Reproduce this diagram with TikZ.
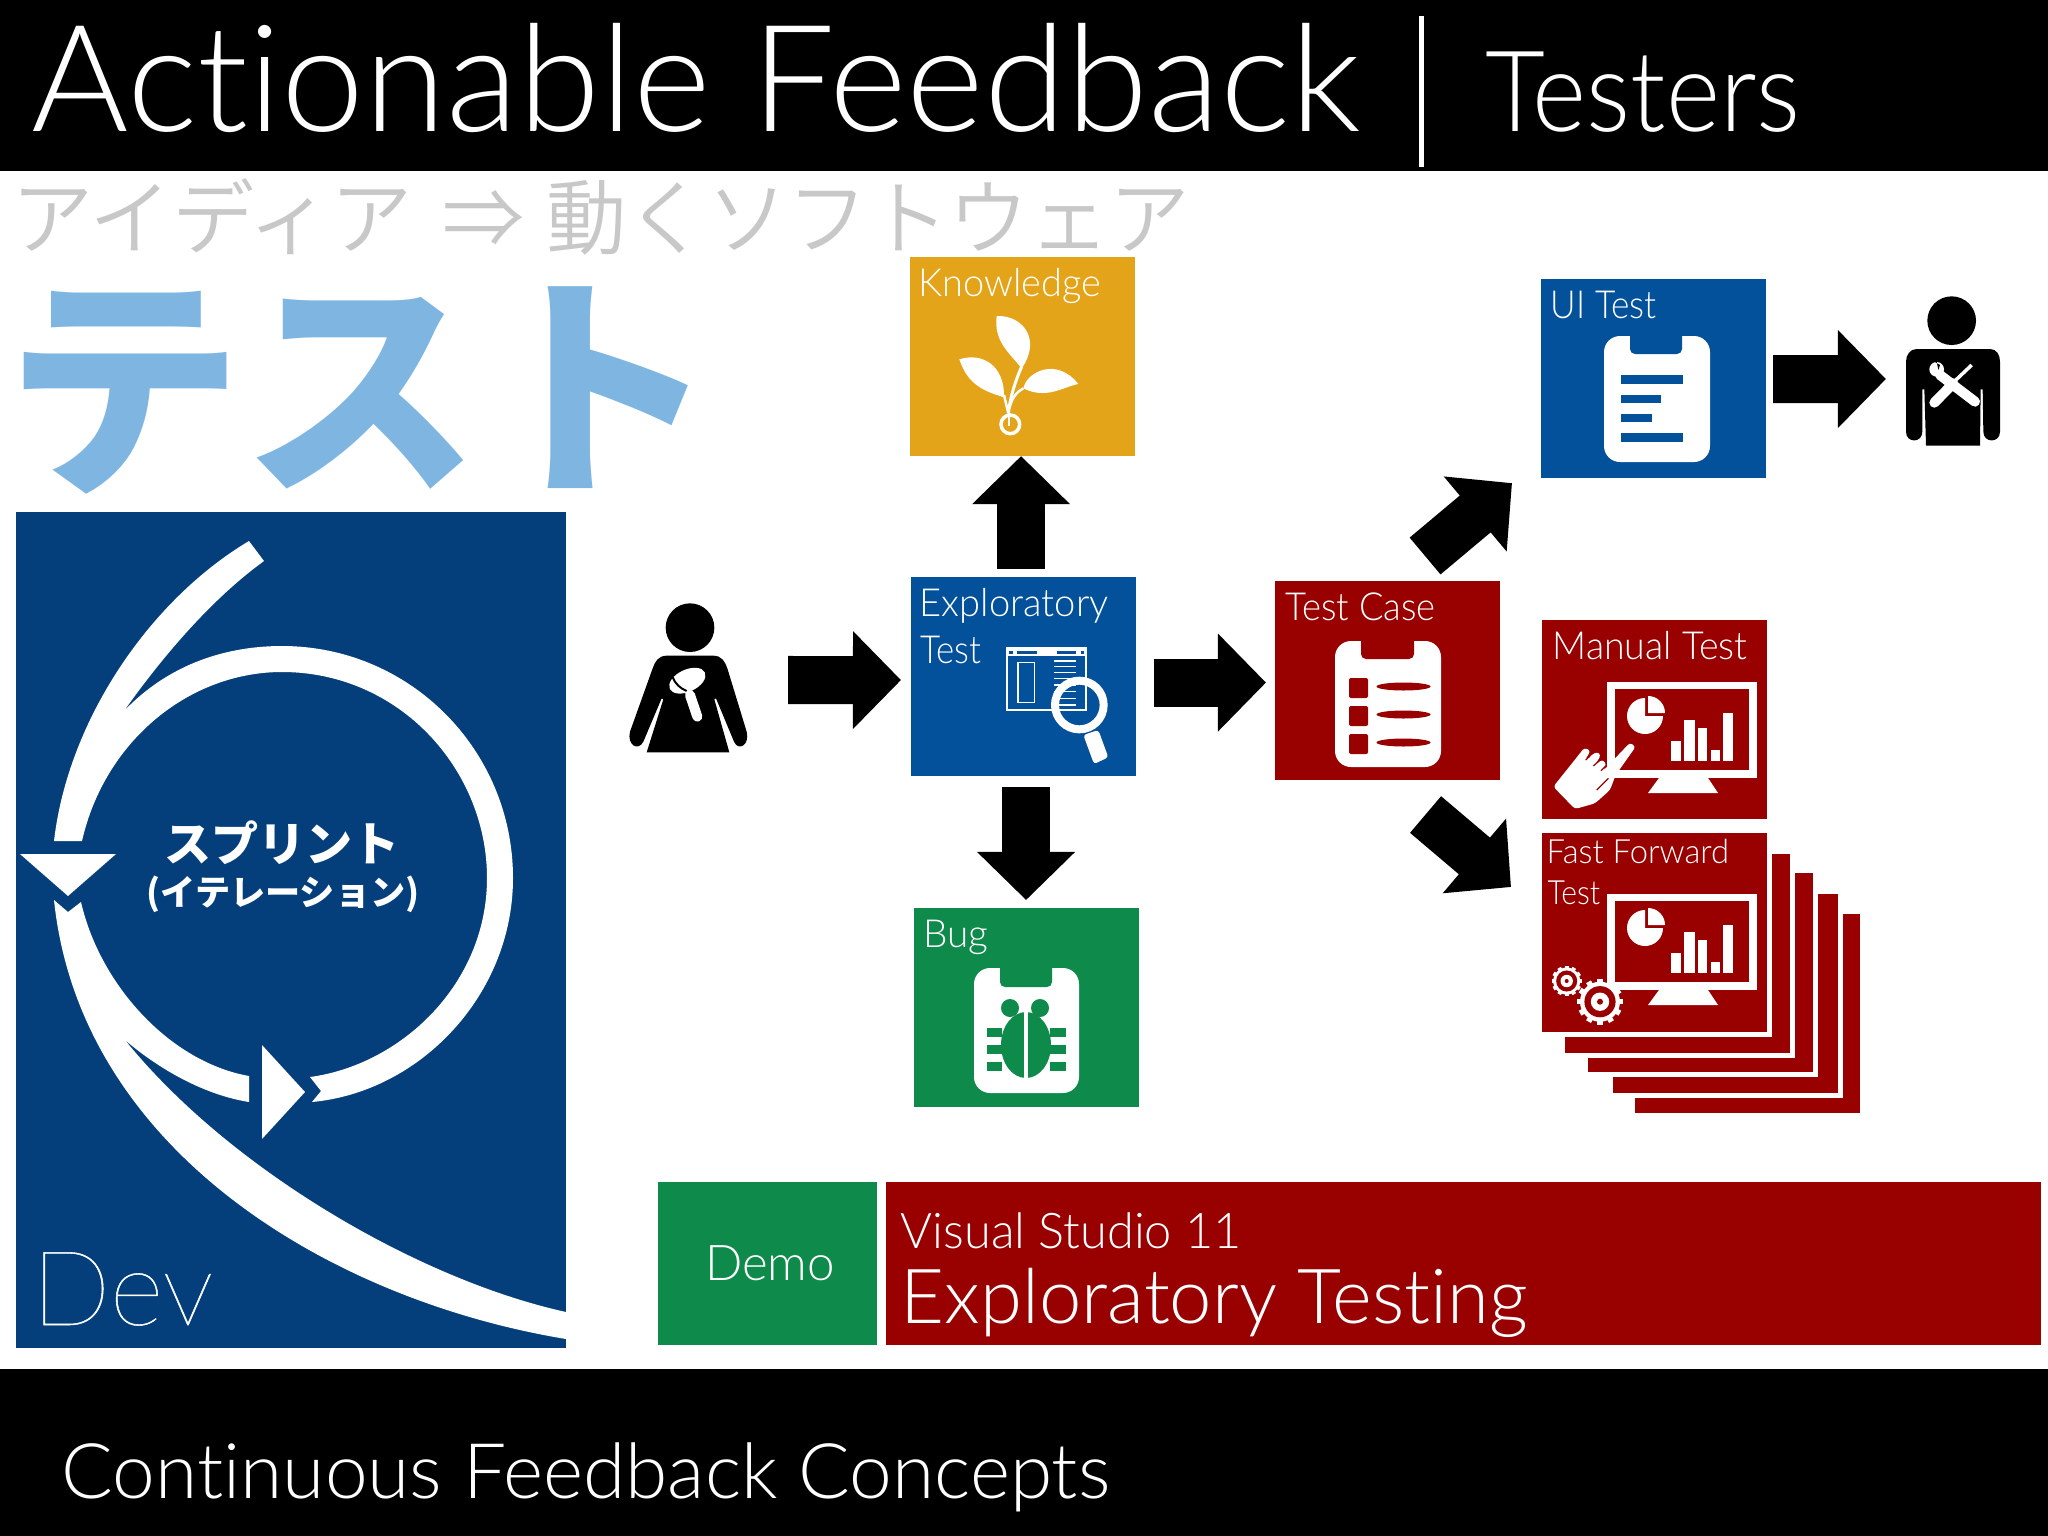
\documentclass[tikz,border=0pt]{standalone}
\usepackage{fontspec}
\usepackage{graphicx}
\setmainfont{Lato Light}[Ligatures=NoCommon]
\newfontfamily\devfont{Lato Thin}[Ligatures=NoCommon, FakeBold=0.5]
\newfontfamily\jpdemi{Noto Sans CJK JP DemiLight}
\newfontfamily\jpblack{Noto Sans CJK JP Black}
\usetikzlibrary{arrows.meta}
\definecolor{tileorange}{HTML}{E3A41A}
\definecolor{tileblue}{HTML}{02519A}
\definecolor{tilered}{HTML}{990000}
\definecolor{tilegreen}{HTML}{0E8A4B}
\definecolor{devblue}{HTML}{043F7B}
\definecolor{testblue}{HTML}{7FB6E1}
\definecolor{ideagray}{HTML}{C8C8C8}
\tikzset{
    tile/.style={rectangle, inner sep=0pt, outer sep=0pt, anchor=north west,
        minimum width=2.25cm, minimum height=1.99cm},
    stacktile/.style={tile, fill=tilered, draw=white, line width=0.05cm,
        minimum width=2.30cm, minimum height=2.04cm},
    tiletext/.style={anchor=base west, inner sep=0pt, text=white, font=\fontsize{11}{13}\selectfont},
    figbox/.style={rectangle, inner sep=0pt, outer sep=0pt},
    blockarrow/.style={line width=0.48cm, -{Triangle[length=0.48cm,width=0.95cm]}},
}
\newcommand{\squeeze}[2]{\scalebox{#1}[1]{#2}}
% monitor with pie and bars, #1 is its offset from the Manual Test one
\newcommand{\monitoricon}[1]{
    \begin{scope}[shift={(0,#1)}]
        \fill[white] (1607,682) rectangle (1757,778);
        \fill[tilered] (1615,689) rectangle (1749,770);
        \fill[white] (1659,778) -- (1708,778) -- (1718,793) -- (1648,793) -- cycle;
        \fill[white] (1645,716) -- ++(0,-18) arc[start angle=-90, end angle=-360, radius=18, y radius=18] -- cycle;
        \fill[white] (1648,713) -- ++(0,-17) arc[start angle=-90, end angle=0, radius=17] -- cycle;
        \fill[white] (1671,741) rectangle (1681,761);
        \fill[white] (1684,720) rectangle (1695,761);
        \fill[white] (1698,728) rectangle (1707,761);
        \fill[white] (1711,750) rectangle (1720,761);
        \fill[white] (1723,713) rectangle (1733,761);
    \end{scope}
}
% gear: centre, body radius, tooth width
\newcommand{\gearicon}[4]{
    \fill[white] (#1,#2) circle[radius=#3];
    \foreach \a in {0,30,...,330}
        \draw[white, line width=#4] (#1,#2) ++(\a:#3-1) -- ++(\a:#3*0.2);
    \fill[tilered] (#1,#2) circle[radius=#3*0.78];
    \fill[white] (#1,#2) circle[radius=#3*0.46];
    \fill[tilered] (#1,#2) circle[radius=#3*0.15];
}
\begin{document}
\begin{tikzpicture}[x=0.01cm, y=-0.01cm]
    \useasboundingbox (0,0) rectangle (2048,1536);
    \fill[white] (0,0) rectangle (2048,1536);
    \fill[black] (0,0) rectangle (2048,171);
    \fill[black] (0,1369) rectangle (2048,1536);

    \node[anchor=base west, inner sep=0pt, text=white, font=\fontsize{42.3}{50}\selectfont] (title) at (31,131) {Actionable Feedback};
    \node[figbox, fill=white, minimum width=0.05cm, minimum height=1.51cm, anchor=north] (titlebar) at (1421,16) {};
    \node[anchor=base west, inner sep=0pt, text=white, font=\fontsize{32}{38}\selectfont] (testers) at (1485,131) {\squeeze{0.92}{Testers}};
    \node[anchor=base west, inner sep=0pt, text=ideagray, font=\jpdemi\fontsize{23.4}{27}\selectfont] (idea) at (11,248) {アイディア\hspace{3pt} ⇒\hspace{1pt} \squeeze{0.978}{動くソフトウェア}};
    \node[anchor=base west, inner sep=0pt, text=testblue, font=\jpblack\fontsize{67.4}{75}\selectfont] (testword) at (5,476) {テスト};
    \node[anchor=base west, inner sep=0pt, text=white, font=\fontsize{21.8}{26}\selectfont] (footer) at (61,1498) {Continuous Feedback Concepts};

    % sprint box
    \node[tile, fill=devblue, minimum width=5.50cm, minimum height=8.35cm] (dev) at (16,512) {};
    \fill[white] (249,541) .. controls (150,600) and (68,720) .. (54,841) -- (82,841)
        .. controls (105,740) and (190,672) .. (282,672)
        .. controls (400,672) and (487,770) .. (487,878)
        .. controls (487,985) and (400,1065) .. (310,1077)
        -- (321,1091) -- (312,1102)
        .. controls (420,1092) and (513,995) .. (513,878)
        .. controls (513,750) and (410,646) .. (282,646)
        .. controls (220,646) and (165,668) .. (124,711)
        .. controls (160,660) and (210,600) .. (264,561) -- cycle;
    \fill[white] (54,900) -- (68,912) -- (81,902)
        .. controls (100,985) and (170,1062) .. (249,1076) -- (249,1102)
        .. controls (205,1095) and (160,1070) .. (125,1040)
        .. controls (230,1170) and (420,1280) .. (566,1312) -- (566,1339)
        .. controls (330,1300) and (80,1150) .. (54,900) -- cycle;
    \fill[white] (20,854) -- (116,854) -- (68,896) -- cycle;
    \fill[white] (262,1045) -- (305,1092) -- (262,1139) -- cycle;
    \node[inner sep=0pt, text=white, font=\jpblack\fontsize{13.4}{15}\selectfont] (sprint) at (282,843) {スプリント};
    \node[inner sep=0pt, text=white, font=\jpblack\fontsize{10}{12}\selectfont] (iteration) at (283,894) {(イテレーション)};
    \node[anchor=base west, inner sep=0pt, text=white, font=\devfont\fontsize{29.5}{35}\selectfont] (devtext) at (31,1325) {Dev};

    % tiles
    \node[tile, fill=tileorange] (knowledge) at (910,257) {};
    \node[tile, fill=tileblue] (explore) at (911,577) {};
    \node[tile, fill=tilegreen] (bug) at (914,908) {};
    \node[tile, fill=tilered] (testcase) at (1275,581) {};
    \node[tile, fill=tileblue] (uitest) at (1541,279) {};
    \node[tile, fill=tilered] (manual) at (1542,620) {};
    \node[stacktile] (stackd) at (1632,911) {};
    \node[stacktile] (stackc) at (1610,891) {};
    \node[stacktile] (stackb) at (1585,870) {};
    \node[stacktile] (stacka) at (1562,851) {};
    \node[stacktile] (fastforward) at (1539,830) {};
    \node[tile, fill=tilegreen, minimum width=2.19cm, minimum height=1.63cm] (demo) at (658,1182) {};
    \node[tile, fill=tilered, minimum width=11.54cm, minimum height=1.63cm] (vstudio) at (886,1182) {};

    \node[tiletext] (knowledgetext) at (918,296) {\squeeze{0.98}{Knowledge}};
    \node[tiletext] (exploretexta) at (919,616) {\squeeze{0.985}{Exploratory}};
    \node[tiletext] (exploretextb) at (920,663) {\squeeze{0.9}{Test}};
    \node[tiletext] (bugtext) at (923,947) {Bug};
    \node[tiletext] (casetext) at (1285,620) {\squeeze{0.94}{Test Case}};
    \node[tiletext] (uitext) at (1550,318) {\squeeze{0.91}{UI Test}};
    \node[tiletext] (manualtext) at (1552,659) {\squeeze{0.97}{Manual Test}};
    \node[tiletext, font=\fontsize{9.5}{11}\selectfont] (fasttexta) at (1546,863) {\squeeze{0.98}{Fast Forward}};
    \node[tiletext, font=\fontsize{9.5}{11}\selectfont] (fasttextb) at (1547,904) {\squeeze{0.9}{Test}};
    \node[anchor=center, inner sep=0pt, text=white, font=\fontsize{14}{17}\selectfont] (demotext) at (770,1263) {Demo};
    \node[anchor=base west, inner sep=0pt, text=white, font=\fontsize{14}{17}\selectfont] (vstext) at (900,1248) {\squeeze{0.99}{Visual Studio 11}};
    \node[anchor=base west, inner sep=0pt, text=white, font=\fontsize{21.6}{25}\selectfont] (exptext) at (900,1323) {Exploratory Testing};

    % figures
    \node[figbox, minimum width=1.18cm, minimum height=1.48cm] (tester) at (688,678) {};
    \node[figbox, minimum width=0.94cm, minimum height=1.49cm] (maintainer) at (1953,371.5) {};

    % connectors
    \draw[blockarrow] ([shift={(41,2)}]tester.east) -- ([shift={(-10,3.5)}]explore.west);
    \draw[blockarrow] ([shift={(-2.5,-8)}]explore.north) -- ([shift={(-1.5,0)}]knowledge.south);
    \draw[blockarrow] ([shift={(2.5,11)}]explore.south) -- ([shift={(-0.5,-8)}]bug.north);
    \draw[blockarrow] ([shift={(17.6,6)}]explore.east) -- ([shift={(-9,2)}]testcase.west);
    \draw[blockarrow] ([shift={(37.5,-25)}]testcase.north) -- ([shift={(-29,5)}]uitest.south west);
    \draw[blockarrow] ([shift={(38,34.4)}]testcase.south) -- ([shift={(-28,57)}]fastforward.north west);
    \draw[blockarrow] ([shift={(7,0.5)}]uitest.east) -- ([shift={(-20,7.5)}]maintainer.west);

    % tester
    \begin{scope}[shift={(610,590)}, scale=1/3]
        \fill[black] (240,113) circle[radius=73];
        \fill[black] (170,197) -- (310,197) .. controls (335,197) and (345,215) .. (352,235)
            -- (410,425) .. controls (420,465) and (385,485) .. (372,455) -- (318,325) -- (313,328) -- (358,487) -- (110,487) -- (160,328) -- (155,325) -- (100,455)
            .. controls (85,485) and (50,465) .. (60,425)
            -- (128,235) .. controls (135,215) and (145,197) .. (170,197) -- cycle;
        \fill[white, rotate around={25:(232,272)}] (232,272) ellipse[x radius=58, y radius=33];
        \draw[black, line width=0.02cm] (188,262) .. controls (195,280) and (210,295) .. (230,303);
        \draw[white, line width=0.1cm, line cap=round] (240,315) -- (262,380);
    \end{scope}

    % maintainer
    \begin{scope}[shift={(1890,290)}, scale=1/3]
        \fill[black] (185,92) circle[radius=73];
        \fill[black] (80,177) -- (300,177) .. controls (320,177) and (330,195) .. (330,215)
            -- (330,425) .. controls (330,460) and (280,460) .. (280,425) -- (278,298) -- (272,298) -- (270,467) -- (108,467) -- (103,298) -- (97,298) -- (97,425)
            .. controls (97,460) and (48,460) .. (48,425)
            -- (48,215) .. controls (48,195) and (60,177) .. (80,177) -- cycle;
        \draw[white, line width=0.1cm, line cap=round] (150,255) -- (255,335);
        \fill[white] (140,238) circle[radius=22];
        \fill[black] (128,212) -- (150,225) -- (145,240) -- (140,215) -- cycle;
        \draw[white, line width=0.035cm] (245,225) -- (185,282);
        \draw[white, line width=0.1cm, line cap=round] (190,280) -- (133,338);
    \end{scope}

    % knowledge sprout
    \begin{scope}[shift={(940,310)}, scale=1/3]
        \fill[white] (245,175) .. controls (210,130) and (160,95) .. (170,18) .. controls (250,15) and (305,90) .. (245,175) -- cycle;
        \fill[white] (58,148) .. controls (130,125) and (195,170) .. (192,262) .. controls (140,245) and (85,230) .. (58,148) -- cycle;
        \fill[white] (250,235) .. controls (260,185) and (350,140) .. (415,222) .. controls (370,230) and (320,270) .. (250,235) -- cycle;
        \draw[white, line width=0.03cm] (245,170) .. controls (225,215) and (210,265) .. (205,310);
        \draw[white, line width=0.025cm] (192,255) -- (205,310);
        \draw[white, line width=0.025cm] (250,235) .. controls (230,245) and (215,265) .. (208,295);
        \draw[white, line width=0.035cm] (211,343) circle[radius=28];
        \draw[white, line width=0.025cm] (207,310) -- (207,347);
    \end{scope}

    % exploratory window and lens
    \begin{scope}[shift={(990,630)}, scale=1/3]
        \draw[white, line width=0.018cm] (52,55) rectangle (288,240);
        \fill[white] (52,55) rectangle (288,78);
        \fill[tileblue] (58,62) rectangle (68,72);
        \fill[tileblue] (82,62) rectangle (140,72);
        \fill[tileblue] (200,62) rectangle (258,72);
        \fill[tileblue] (272,62) rectangle (282,72);
        \draw[white, line width=0.016cm] (84,97) rectangle (133,218);
        \foreach \y in {93,110,128,146,165,185,205,225}
            \draw[white, line width=0.013cm] (192,\y) -- (258,\y);
        \draw[white, line width=0.08cm] (268,225) circle[radius=73];
        \fill[white, rounded corners=0.03cm] (280,315) -- (325,300) -- (355,382) -- (312,402) -- cycle;
    \end{scope}

    % clipboards
    \fill[white, rounded corners=0.16cm] (1604,336) rectangle (1710,462);
    \fill[tileblue, rounded corners=0.05cm] (1630,320) rectangle (1682,354);
    \fill[tileblue] (1621,375) rectangle (1683,384);
    \fill[tileblue] (1621,395) rectangle (1661,403);
    \fill[tileblue] (1621,414) rectangle (1652,422);
    \fill[tileblue] (1621,433) rectangle (1683,442);

    \fill[white, rounded corners=0.16cm] (1335,641) rectangle (1441,767);
    \fill[tilered, rounded corners=0.05cm] (1361,625) rectangle (1414,659);
    \foreach \y in {678,706,734} {
        \fill[tilered, rounded corners=0.02cm] (1349,\y) rectangle (1368,\y+20);
        \fill[tilered] (1403.5,\y+8.5) ellipse[x radius=27, y radius=4];
    }

    \fill[white, rounded corners=0.16cm] (974,968) rectangle (1079,1093);
    \fill[tilegreen, rounded corners=0.05cm] (1000,952) rectangle (1052,987);
    \fill[tilegreen] (1010,1008) circle[radius=9];
    \fill[tilegreen] (1040,1008) circle[radius=9];
    \fill[tilegreen] (1026,1045) ellipse[x radius=25, y radius=33];
    \draw[white, line width=0.045cm] (1026,1000) -- (1026,1082);
    \foreach \y in {1028,1045,1062} {
        \fill[tilegreen] (987,\y) rectangle (1002,\y+9);
        \fill[tilegreen] (1050,\y) rectangle (1066,\y+9);
    }

    % monitors
    \monitoricon{0}
    \monitoricon{212}
    \gearicon{1566.7}{981}{13.5}{0.04cm}
    \gearicon{1600}{1001.7}{20}{0.055cm}

    % hand
    \begin{scope}[shift={(1545,680)}, scale=1/3]
        \fill[white, rounded corners=0.03cm] (25,320) -- (85,245) -- (118,203) -- (137,212) -- (120,240) -- (155,215) -- (168,225) -- (150,255) -- (172,238) -- (185,255) -- (172,275) -- (255,188) -- (272,200) -- (212,285) -- (195,330) -- (150,370) -- (90,387) -- cycle;
        \draw[tilered, line width=0.012cm] (155,330) -- (190,295);
        \draw[tilered, line width=0.012cm] (168,272) -- (185,255);
        \draw[tilered, line width=0.012cm] (122,240) -- (135,228);
        \draw[tilered, line width=0.012cm] (145,258) -- (165,240);
    \end{scope}
\end{tikzpicture}
\end{document}
